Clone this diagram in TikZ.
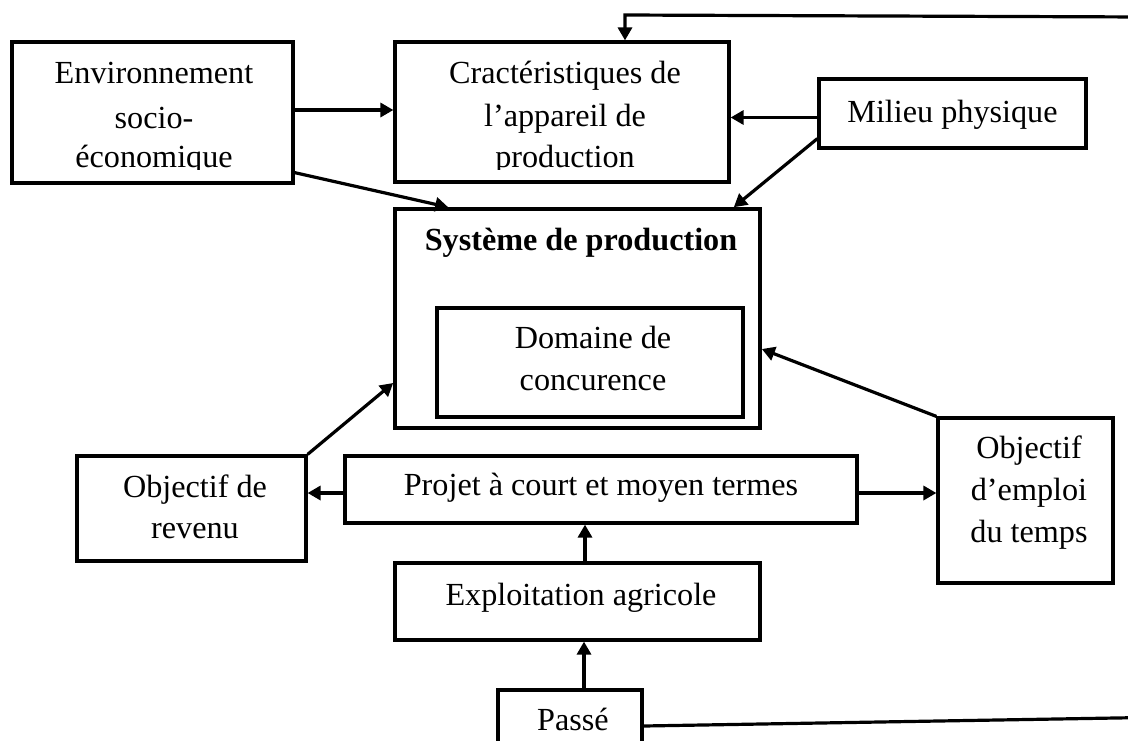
\documentclass[tikz,border=0pt]{standalone}
\usepackage{fontspec}
\setmainfont{Liberation Serif}
\usetikzlibrary{arrows.meta,calc}
\tikzset{
  box/.style={draw, rectangle, line width=3.2pt, inner sep=0pt},
  txt/.style={anchor=base, inner sep=0pt, font=\fontsize{32.2pt}{42pt}\selectfont},
  arr/.style={line width=3.2pt, -{Triangle[length=13pt,width=14pt]}},
}
\begin{document}
\begin{tikzpicture}[x=1pt,y=-1pt]
\useasboundingbox (0,0) rectangle (1128,740);
\clip (0,0) rectangle (1128,740);
\fill[white] (0,0) rectangle (1128,740);

% boxes
\node[box, minimum width=281pt, minimum height=141pt] (env) at (152.5,112.5) {};
\node[box, minimum width=334pt, minimum height=140pt] (cract) at (562,112) {};
\node[box, minimum width=267pt, minimum height=69pt] (milieu) at (952.5,113.5) {};
\node[box, line width=3.6pt, minimum width=365pt, minimum height=219pt] (sys) at (577.5,318.5) {};
\node[box, minimum width=306pt, minimum height=109pt] (dom) at (590,362.5) {};
\node[box, minimum width=229pt, minimum height=105pt] (rev) at (191.5,508.5) {};
\node[box, minimum width=512pt, minimum height=67pt] (projet) at (601,489.5) {};
\node[box, minimum width=175pt, minimum height=165pt] (emploi) at (1025.5,500.5) {};
\node[box, minimum width=365pt, minimum height=77pt] (expl) at (577.5,601.5) {};
\node[box, minimum width=144pt, minimum height=80pt] (passe) at (570,730) {};

% texts
\node[txt] (envt1) at (154,83) {Environnement};
\node[txt] (envt2) at (154,128) {socio-};
\begin{scope}
\clip (14,44) rectangle (291,169);
\node[txt] (envt3) at (154,167) {économique};
\end{scope}
\node[txt] (crt1) at (565,83) {Cractéristiques de};
\node[txt] (crt2) at (565,126) {l’appareil de};
\begin{scope}
\clip (397,44) rectangle (727,169);
\node[txt] (crt3) at (565,167) {production};
\end{scope}
\node[txt] (milt) at (952.5,122) {Milieu physique};
\node[txt, font=\fontsize{32.2pt}{42pt}\selectfont\bfseries] (syst) at (581,250) {Système de production};
\node[txt] (domt1) at (593,348) {Domaine de};
\node[txt] (domt2) at (593,390) {concurence};
\node[txt] (revt1) at (195,497) {Objectif de};
\node[txt] (revt2) at (195,538) {revenu};
\node[txt] (prt) at (601,495) {Projet à court et moyen termes};
\node[txt] (empt1) at (1029,458) {Objectif};
\node[txt] (empt2) at (1029,500) {d’emploi};
\node[txt] (empt3) at (1029,542) {du temps};
\node[txt] (explt) at (581,605) {Exploitation agricole};
\node[txt] (passt) at (573,730) {Passé};

% connectors
\draw[arr] ($(env.east)+(0,-2.5)$) -- ($(cract.west |- env.east)+(0,-2.5)$);
\draw[arr] ($(milieu.west)+(0,4)$) -- ($(cract.east |- milieu.west)+(0,4)$);
\draw[arr] ($(env.south east)+(0,-12)$) -- ($(sys.north west)+(55,0)$);
\draw[arr] ($(milieu.south west)+(0,-11)$) -- ($(sys.north east)+(-28,0)$);
\draw[arr] (rev.north east) -- ($(sys.west)+(0,64.5)$);
\draw[arr] ($(projet.west)+(0,3.5)$) -- ($(rev.east |- projet.west)+(0,3.5)$);
\draw[arr] ($(projet.east)+(0,3.5)$) -- ($(emploi.west |- projet.east)+(0,3.5)$);
\draw[arr] (emploi.north west) -- ($(sys.east)+(0,30.5)$);
\draw[arr] ($(expl.north)+(7.5,0)$) -- ($(expl.north |- projet.south)+(7.5,0)$);
\draw[arr] ($(passe.north)+(14,0)$) -- ($(passe.north |- expl.south)+(14,0)$);

\coordinate (r1) at (1145,717.5);
\coordinate (r2) at (1145,17);
\coordinate (c1) at (625,15);
\draw[arr] ($(passe.east)+(0,-4)$) -- (r1) -- (r2) -- (c1) -- (c1 |- cract.north);
\end{tikzpicture}
\end{document}
